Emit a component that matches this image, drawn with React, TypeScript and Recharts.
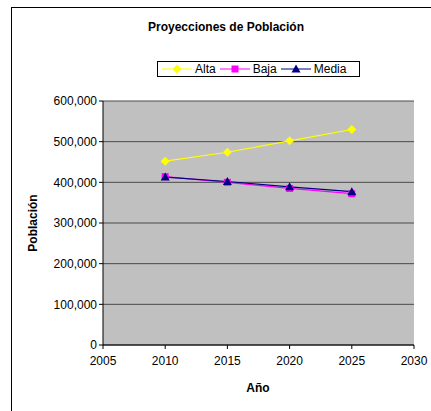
import React from 'react';
import { LineChart, Line, XAxis, YAxis, CartesianGrid } from 'recharts';

const years = [2010, 2015, 2020, 2025];
const alta = [452000, 474000, 502000, 530000];
const baja = [414000, 400000, 385000, 372000];
const media = [413000, 402000, 389000, 377000];
const xTicks = [2005, 2010, 2015, 2020, 2025, 2030];
const yTicks = [0, 100000, 200000, 300000, 400000, 500000, 600000];

const data = years.map((year, i) => ({ year, Alta: alta[i], Baja: baja[i], Media: media[i] }));

const font = '"Liberation Sans", Arial, sans-serif';

const Diamond = (props: any) => {
  const { cx, cy, fill } = props;
  if (cx == null || cy == null) return null;
  return <polygon points={`${cx},${cy - 4.5} ${cx + 4.5},${cy} ${cx},${cy + 4.5} ${cx - 4.5},${cy}`} fill={fill} />;
};

const Square = (props: any) => {
  const { cx, cy, fill } = props;
  if (cx == null || cy == null) return null;
  return <rect x={cx - 3.5} y={cy - 3.5} width={7} height={7} fill={fill} />;
};

const Triangle = (props: any) => {
  const { cx, cy, fill } = props;
  if (cx == null || cy == null) return null;
  return <polygon points={`${cx},${cy - 4.5} ${cx + 4.5},${cy + 3.5} ${cx - 4.5},${cy + 3.5}`} fill={fill} />;
};

const series = [
  { key: 'Alta', color: '#FFFF00', Shape: Diamond },
  { key: 'Baja', color: '#FF00FF', Shape: Square },
  { key: 'Media', color: '#000080', Shape: Triangle },
];

const fmt = (v: number) => v.toLocaleString('en-US');

const App = () => {
  return (
    <div style={{ position: 'absolute', left: 0, top: 0, width: 431, height: 411, background: '#fff', overflow: 'hidden' }}>
      <div style={{ position: 'absolute', left: 11, top: 7, width: 430, height: 410, borderLeft: '1px solid #000', borderTop: '1px solid #000' }} />
      <div style={{ position: 'absolute', left: 0, width: 452, top: 20, textAlign: 'center', fontFamily: font, fontSize: 12, fontWeight: 'bold' }}>
        Proyecciones de Población
      </div>
      <div
        style={{
          position: 'absolute',
          left: 33,
          top: 223,
          transform: 'translate(-50%, -50%) rotate(-90deg)',
          fontFamily: font,
          fontSize: 12,
          fontWeight: 'bold',
          whiteSpace: 'nowrap',
        }}
      >
        Población
      </div>
      <div style={{ position: 'absolute', left: 258, top: 388, transform: 'translate(-50%, -50%)', fontFamily: font, fontSize: 12, fontWeight: 'bold' }}>
        Año
      </div>
      <div style={{ position: 'absolute', left: 0, top: 0 }}>
        <LineChart width={431} height={411} data={data} margin={{ top: 101, right: 17, left: 43, bottom: 36 }}>
          <CartesianGrid vertical={false} fill="#C0C0C0" stroke="#4a4a4a" strokeWidth={1} />
          <XAxis
            dataKey="year"
            type="number"
            domain={[2005, 2030]}
            ticks={xTicks}
            interval={0}
            height={30}
            stroke="#000"
            tickSize={4}
            tick={{ fill: '#000', fontSize: 12, fontFamily: font }}
            tickMargin={7}
          />
          <YAxis
            type="number"
            domain={[0, 600000]}
            ticks={yTicks}
            interval={0}
            width={60}
            stroke="#000"
            tickSize={4}
            tickFormatter={fmt}
            tick={{ fill: '#000', fontSize: 12, fontFamily: font }}
            tickMargin={2}
          />
          {series.map((s) => (
            <Line
              key={s.key}
              dataKey={s.key}
              stroke={s.color}
              strokeWidth={1.2}
              isAnimationActive={false}
              dot={<s.Shape fill={s.color} />}
              activeDot={false}
            />
          ))}
        </LineChart>
      </div>
      <div
        style={{
          position: 'absolute',
          left: 157,
          top: 61,
          width: 197,
          height: 14,
          border: '1px solid #000',
          background: '#fff',
          display: 'flex',
          alignItems: 'center',
          fontFamily: font,
          fontSize: 12,
          paddingLeft: 4,
        }}
      >
        {series.map((s) => (
          <div key={s.key} style={{ display: 'flex', alignItems: 'center', marginRight: 4 }}>
            <svg width={30} height={10}>
              <line x1={0} y1={5} x2={30} y2={5} stroke={s.color} strokeWidth={1} />
              <s.Shape cx={15} cy={5} fill={s.color} />
            </svg>
            <span style={{ marginLeft: 3 }}>{s.key}</span>
          </div>
        ))}
      </div>
    </div>
  );
};

export default App;
